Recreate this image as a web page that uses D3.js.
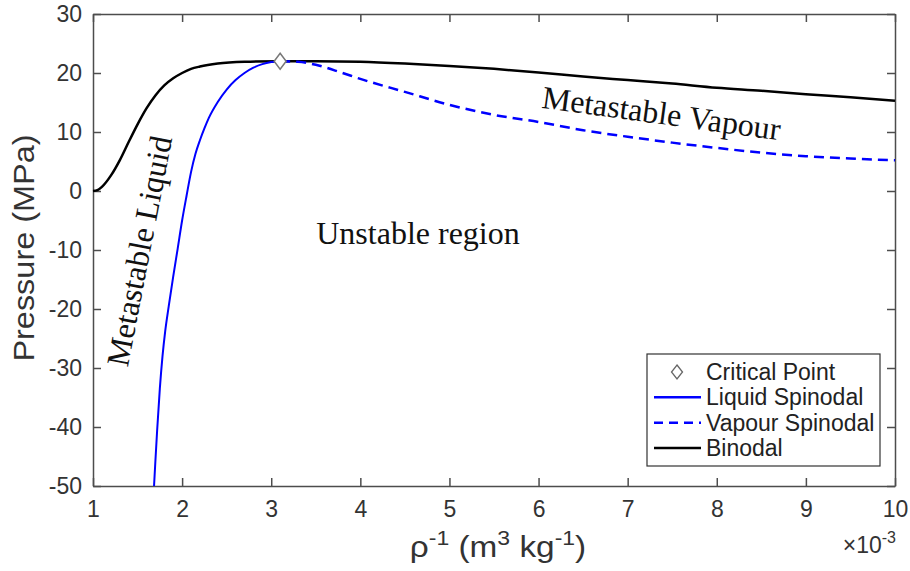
<!DOCTYPE html>
<html>
<head>
<meta charset="utf-8">
<script src="https://cdn.jsdelivr.net/npm/d3@7"></script>
<style>
  body { margin: 0; background: #fff; }
  svg { display: block; }
</style>
</head>
<body>
<div id="chart"></div>
<script>
// values (x in 1e-3 m3/kg, pressure in MPa)
const binodalX = [1.0, 1.05, 1.1, 1.2, 1.3, 1.4, 1.5, 1.6, 1.7, 1.8, 1.9, 2.0, 2.1, 2.2, 2.4, 2.7, 3.1, 3.5, 4.0, 4.5, 5.0, 5.5, 6.0, 6.5, 7.0, 7.5, 8.0, 8.5, 9.0, 9.5, 10.0];
const binodalP = [0.0, 0.15, 0.7, 2.6, 5.2, 8.3, 11.3, 14.0, 16.2, 17.9, 19.1, 20.0, 20.7, 21.1, 21.6, 21.9, 22.0, 22.0, 21.9, 21.6, 21.2, 20.7, 20.1, 19.4, 18.8, 18.2, 17.5, 17.0, 16.4, 15.9, 15.3];

const liquidX = [1.685, 1.70, 1.72, 1.75, 1.78, 1.81, 1.85, 1.90, 1.95, 2.00, 2.05, 2.10, 2.15, 2.20, 2.25, 2.30, 2.40, 2.50, 2.60, 2.70, 2.80, 2.90, 3.00, 3.10];
const liquidP = [-50, -45.8, -40.5, -33.5, -28.0, -23.8, -19.5, -14.5, -9.8, -5.0, -0.8, 3.2, 6.3, 8.6, 10.6, 12.4, 15.1, 17.2, 18.8, 20.0, 20.9, 21.5, 21.85, 22.0];

const vapourX = [3.1, 3.3, 3.5, 3.8, 4.0, 4.5, 5.0, 5.5, 6.0, 6.5, 7.0, 7.5, 8.0, 8.5, 9.0, 9.5, 10.0];
const vapourP = [22.0, 21.9, 21.4, 20.0, 19.0, 16.8, 14.6, 12.9, 11.7, 10.3, 9.2, 8.2, 7.3, 6.5, 5.9, 5.5, 5.2];

const critical = [3.1, 22.0];

const xTicks = [1, 2, 3, 4, 5, 6, 7, 8, 9, 10];
const yTicks = [-50, -40, -30, -20, -10, 0, 10, 20, 30];

const legendNames = ["Critical Point", "Liquid Spinodal", "Vapour Spinodal", "Binodal"];

const width = 910, height = 571;
const margin = { top: 14, right: 15, bottom: 85, left: 93 };
const axisCol = "#4d4d4d", textCol = "#333";

const svg = d3.select("#chart").append("svg").attr("width", width).attr("height", height);
svg.append("rect").attr("width", width).attr("height", height).attr("fill", "#fff");

const x = d3.scaleLinear().domain([1, 10]).range([margin.left, width - margin.right]);
const y = d3.scaleLinear().domain([-50, 30]).range([height - margin.bottom, margin.top]);

const sans = "'Liberation Sans', Arial, sans-serif";
const serif = "'Liberation Serif', 'Times New Roman', serif";

// axes (box with inward ticks)
function styleAxis(g) {
  g.select(".domain").attr("stroke", axisCol).attr("stroke-width", 1.5);
  g.selectAll(".tick line").attr("stroke", axisCol).attr("stroke-width", 1.5);
  g.selectAll(".tick text").attr("fill", textCol).attr("font-family", sans).attr("font-size", 23);
}
svg.append("g").attr("transform", "translate(0," + y(-50) + ")")
  .call(d3.axisBottom(x).tickValues(xTicks).tickSizeInner(-8).tickSizeOuter(0).tickPadding(15).tickFormat(d => String(d)))
  .call(styleAxis);
svg.append("g").attr("transform", "translate(0," + y(30) + ")")
  .call(d3.axisTop(x).tickValues(xTicks).tickSizeInner(-8).tickSizeOuter(0).tickFormat(""))
  .call(styleAxis);
svg.append("g").attr("transform", "translate(" + x(1) + ",0)")
  .call(d3.axisLeft(y).tickValues(yTicks).tickSizeInner(-8).tickSizeOuter(0).tickPadding(11).tickFormat(d => String(d)))
  .call(styleAxis);
svg.append("g").attr("transform", "translate(" + x(10) + ",0)")
  .call(d3.axisRight(y).tickValues(yTicks).tickSizeInner(-8).tickSizeOuter(0).tickFormat(""))
  .call(styleAxis);

// curves
const line = d3.line().x(d => x(d[0])).y(d => y(d[1])).curve(d3.curveMonotoneX);
const zip = (a, b) => a.map((v, i) => [v, b[i]]);

svg.append("path").datum(zip(binodalX, binodalP)).attr("d", line)
  .attr("fill", "none").attr("stroke", "#000").attr("stroke-width", 2.5);
svg.append("path").datum(zip(liquidX, liquidP)).attr("d", line)
  .attr("fill", "none").attr("stroke", "#0000ff").attr("stroke-width", 2);
svg.append("path").datum(zip(vapourX, vapourP)).attr("d", line)
  .attr("fill", "none").attr("stroke", "#0000ff").attr("stroke-width", 2.5).attr("stroke-dasharray", "10,6");

const diamond = "M0,-8L6,0L0,8L-6,0Z";
svg.append("path").attr("d", diamond)
  .attr("transform", "translate(" + x(critical[0]) + "," + y(critical[1]) + ")")
  .attr("fill", "#fff").attr("stroke", "#777").attr("stroke-width", 1.5);

// annotations
function note(sel) {
  return sel.attr("text-anchor", "middle").attr("font-family", serif).attr("font-style", "normal")
    .attr("font-size", 32).attr("fill", "#111");
}
note(svg.append("text").attr("transform", "translate(150,253) rotate(-79)")).text("Metastable Liquid");
note(svg.append("text").attr("x", 418).attr("y", 244)).text("Unstable region");
note(svg.append("text").attr("transform", "translate(660,124) rotate(7.8)")).text("Metastable Vapour");

// axis labels
svg.append("text").attr("transform", "translate(34,248) rotate(-90) scale(1.12,1)")
  .attr("text-anchor", "middle").attr("font-family", sans).attr("font-size", 29).attr("fill", textCol)
  .text("Pressure (MPa)");

const xl = svg.append("text").attr("transform", "translate(498,557) scale(1.15,1)")
  .attr("text-anchor", "middle").attr("font-family", sans).attr("font-size", 29).attr("fill", textCol);
xl.append("tspan").text("\u03c1");
xl.append("tspan").attr("dy", -12).attr("font-size", 20).text("-1");
xl.append("tspan").attr("dy", 12).text(" (m");
xl.append("tspan").attr("dy", -12).attr("font-size", 20).text("3");
xl.append("tspan").attr("dy", 12).text(" kg");
xl.append("tspan").attr("dy", -12).attr("font-size", 20).text("-1");
xl.append("tspan").attr("dy", 12).text(")");

const ex = svg.append("text").attr("x", 896).attr("y", 553)
  .attr("text-anchor", "end").attr("font-family", sans).attr("font-size", 23).attr("fill", textCol);
ex.append("tspan").text("\u00d710");
ex.append("tspan").attr("dy", -10).attr("font-size", 16).text("-3");

// legend
const lg = svg.append("g").attr("transform", "translate(647,354)");
lg.append("rect").attr("width", 233).attr("height", 112)
  .attr("fill", "#fff").attr("stroke", "#333").attr("stroke-width", 1.2);
const rowY = d3.scalePoint().domain(legendNames).range([18, 94]);
legendNames.forEach((name, i) => {
  const yy = rowY(name);
  if (i === 0) {
    lg.append("path").attr("d", "M0,-7L5.5,0L0,7L-5.5,0Z").attr("transform", "translate(30," + yy + ")")
      .attr("fill", "#fff").attr("stroke", "#666").attr("stroke-width", 1.3);
  } else {
    lg.append("line").attr("x1", 7).attr("x2", 54).attr("y1", yy).attr("y2", yy)
      .attr("stroke", i === 3 ? "#000" : "#0000ff").attr("stroke-width", 2.5)
      .attr("stroke-dasharray", i === 2 ? "9,6" : null);
  }
  lg.append("text").attr("x", 59).attr("y", yy).attr("dy", "0.35em")
    .attr("font-family", sans).attr("font-size", 23).attr("fill", "#222").text(name);
});
</script>
</body>
</html>
